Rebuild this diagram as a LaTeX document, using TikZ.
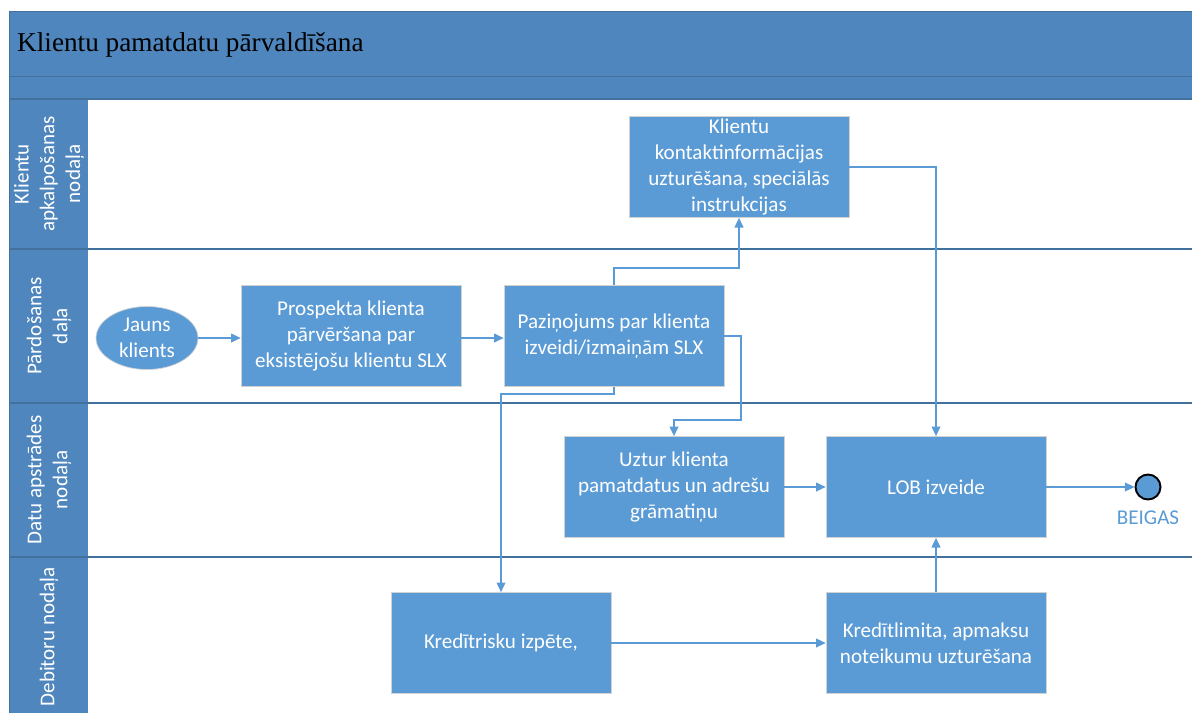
\documentclass[tikz,border=0pt]{standalone}
\usepackage{fontspec}
\setmainfont{Carlito}
\newfontfamily\titlefont{Liberation Serif}
\usetikzlibrary{arrows.meta,positioning,shapes.geometric}

\definecolor{hdrblue}{HTML}{4F86BD}
\definecolor{boxblue}{HTML}{5B9BD5}
\definecolor{laneline}{HTML}{41719C}

\tikzset{
  procbox/.style={draw=gray!35, fill=boxblue, text=white, minimum width=4.4cm,
    minimum height=2.02cm, align=center, inner sep=1pt,
    font=\fontsize{12}{14.7}\selectfont},
  lanelabel/.style={rotate=90, text=white, align=center,
    font=\fontsize{12}{14.7}\selectfont},
  flow/.style={draw=boxblue, line width=0.85pt, -{Triangle[length=5.5pt,width=5pt]}}
}

\begin{document}
\begin{tikzpicture}[x=0.02cm, y=-0.02cm]

    % picture size, in pixels of the reference
    \useasboundingbox (0,0) rectangle (1192,713);

    % Header band and lane label column
    \fill[hdrblue] (9,11) rectangle (1192,99);
    \fill[hdrblue] (9,99) rectangle (88,713);
    \draw[laneline] (9,11) -- (1192,11);
    \draw[laneline] (9,76) -- (1192,76);
    \draw[laneline] (9,11) -- (9,713);
    \node[anchor=west, font=\titlefont\fontsize{15.5}{18}\selectfont] (title) at (11,45) {Klientu pamatdatu pārvaldīšana};

    % Lane separators
    \foreach \y in {99,249,403,557} {
        \draw[laneline, line width=0.8pt] (9,\y) -- (1192,\y);
    }

    % Lane names
    \node[lanelabel] (laneA) at (49,174) {Klientu\\apkalpošanas\\nodaļa};
    \node[lanelabel] (laneB) at (49,326) {Pārdošanas\\daļa};
    \node[lanelabel] (laneC) at (49,480) {Datu apstrādes\\nodaļa};
    \node[lanelabel] (laneD) at (49,637) {Debitoru nodaļa};

    % Process steps
    \node[ellipse, draw=gray!35, fill=boxblue, text=white, minimum width=2.04cm,
          minimum height=1.26cm, align=center, inner sep=0pt,
          font=\fontsize{12}{14.7}\selectfont] (start) at (147,338) {Jauns\\klients};
    \node[procbox] (prosp) at (351,336) {Prospekta klienta\\pārvēršana par\\eksistējošu klientu SLX};
    \node[procbox] (pazin) at (614,336) {Paziņojums par klienta\\izveidi/izmaiņām SLX};
    \node[procbox] (kontakt) at (739,167) {Klientu\\kontaktinformācijas\\uzturēšana, speciālās\\instrukcijas};
    \node[procbox] (uztur) at (674,487) {Uztur klienta\\pamatdatus un adrešu\\grāmatiņu};
    \node[procbox] (lob) at (936,487) {LOB izveide};
    \node[procbox] (risk) at (501,643) {Kredītrisku izpēte,};
    \node[procbox] (limit) at (936,643) {Kredītlimita, apmaksu\\noteikumu uzturēšana};

    % End event
    \node[circle, draw=black, line width=1.1pt, fill=boxblue, minimum size=0.5cm, inner sep=0pt] (fin) at (1148,487) {};
    \node[text=boxblue, font=\fontsize{12}{14}\selectfont] (finlabel) at (1148,518) {BEIGAS};

    % Bend points
    \coordinate (bendA) at (741,420);
    \coordinate (bendB) at (501,394);

    % Connectors
    \draw[flow] (start.east) -- (start.east -| prosp.west);
    \draw[flow] (prosp.east |- start.east) -- (pazin.west |- start.east);
    \draw[flow] (pazin.north) -- ++(0,-17) -| (kontakt.south);
    \draw[flow] (kontakt.east) -| (lob.north);
    \draw[flow] (pazin.east) -| (bendA) -| (uztur.north);
    \draw[flow] (pazin.south) |- (bendB) -- (risk.north);
    \draw[flow] (uztur) -- (lob);
    \draw[flow] (lob) -- (fin);
    \draw[flow] (risk) -- (limit);
    \draw[flow] (limit) -- (lob);

\end{tikzpicture}
\end{document}
